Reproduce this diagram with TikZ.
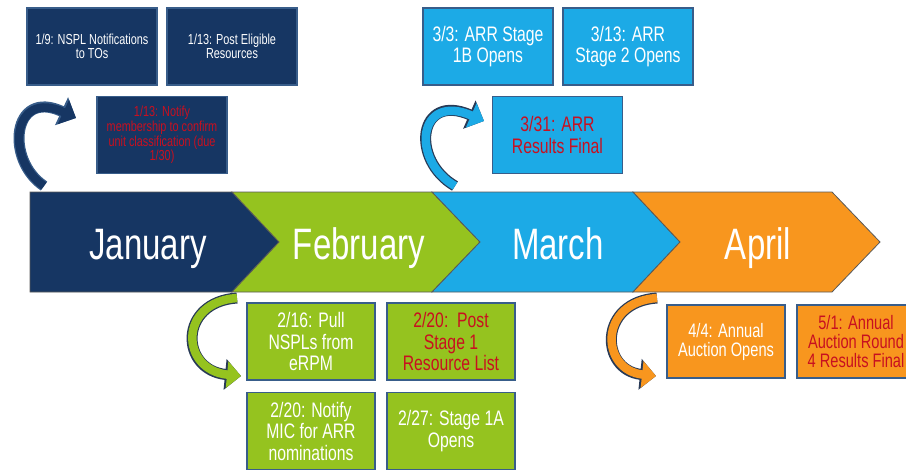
\documentclass[tikz,border=0pt]{standalone}
\usepackage{fontspec}
\setmainfont[FakeStretch=0.75]{Liberation Sans}
\usetikzlibrary{arrows.meta}

\definecolor{navy}{RGB}{22,54,99}
\definecolor{lime}{RGB}{149,195,31}
\definecolor{sky}{RGB}{28,170,230}
\definecolor{amber}{RGB}{248,150,30}
\definecolor{alert}{RGB}{200,16,32}
\definecolor{rim}{RGB}{56,93,138}
\definecolor{darkrim}{RGB}{40,58,86}

\begin{document}
\begin{tikzpicture}[x=1pt,y=-1pt,
	box/.style={shape=rectangle,draw=rim,line width=1.5pt,align=center,text=white,inner sep=2pt},
	small/.style={minimum width=130pt,minimum height=77pt,font=\fontsize{14.5}{13.5}\selectfont},
	big/.style={minimum width=128pt,minimum height=77pt,font=\fontsize{21}{21.5}\selectfont},
	wide/.style={minimum width=118pt,minimum height=73pt,font=\fontsize{19.5}{19}\selectfont},
	seg/.style={draw=black!65,line width=0.8pt},
	month/.style={anchor=base,text=white,font=\fontsize{44}{44}\selectfont},
	curl/.style 2 args={line width=8.5pt,draw=#1,-{Triangle[length=14pt,width=26pt]},
		preaction={draw=#2,line width=11pt,-{Triangle[length=16pt,width=30pt]}}}]

	\useasboundingbox (0,0) rectangle (906,471);
	\clip (0,0) rectangle (906,471);

	% month band
	\filldraw[seg,fill=navy]  (30,192) -- (232,192) -- (279,242) -- (232,292) -- (30,292) -- cycle;
	\filldraw[seg,fill=lime]  (232,192) -- (432,192) -- (480,242) -- (432,292) -- (232,292) -- (279,242) -- cycle;
	\filldraw[seg,fill=sky]   (432,192) -- (633,192) -- (680,242) -- (633,292) -- (432,292) -- (480,242) -- cycle;
	\filldraw[seg,fill=amber] (633,192) -- (832,192) -- (880,242) -- (832,292) -- (633,292) -- (680,242) -- cycle;

	\node[month] (jan) at (148,259) {January};
	\node[month] (feb) at (359,259) {February};
	\node[month] (mar) at (558,259) {March};
	\node[month] (apr) at (758,259) {April};

	% january
	\node[box,small,fill=navy] (nspl)    at (92,46.5)  {1/9: NSPL Notifications\\to TOs};
	\node[box,small,fill=navy] (elig)    at (232,46.5) {1/13: Post Eligible\\Resources};
	\node[box,small,fill=navy,text=alert] (notify) at (162,135)
		{1/13: Notify\\membership to confirm\\unit classification (due\\1/30)};

	% february
	\node[box,big,fill=lime] (pull)   at (311,341.5) {2/16: Pull\\NSPLs from\\eRPM};
	\node[box,big,fill=lime,text=alert] (stagelist) at (451,341.5) {2/20:~~Post\\Stage 1\\Resource List};
	\node[box,big,fill=lime] (mic)    at (311,431)   {2/20: Notify\\MIC for ARR\\nominations};
	\node[box,big,fill=lime] (stage1a) at (451,431)  {2/27: Stage 1A\\Opens};

	% march
	\node[box,big,minimum width=130pt,fill=sky] (stage1b) at (488,46.5) {3/3: ARR Stage\\1B Opens};
	\node[box,big,minimum width=130pt,fill=sky] (stage2)  at (628,46.5) {3/13: ARR\\Stage 2 Opens};
	\node[box,big,minimum width=130pt,fill=sky,text=alert] (arrfinal) at (557.5,135) {3/31: ARR\\Results Final};

	% april
	\node[box,wide,fill=amber] (auction) at (726,341.5) {4/4: Annual\\Auction Opens};
	\node[box,wide,fill=amber,text=alert] (round4) at (856,341.5) {5/1: Annual\\Auction Round\\4 Results Final};

	% curved arrows
	\coordinate (jtail) at (44,186);
	\coordinate (jhead) at (76,118);
	\coordinate (mtail) at (455,186);
	\coordinate (mhead) at (484,121);
	\coordinate (ftail) at (237,298);
	\coordinate (fhead) at (241,376);
	\coordinate (atail) at (657,298);
	\coordinate (ahead) at (656,376);
	\draw[curl={navy}{rim}]      (jtail) .. controls (5,160) and (12,88) .. (jhead);
	\draw[curl={sky}{darkrim}]   (mtail) .. controls (410,160) and (418,92) .. (mhead);
	\draw[curl={lime}{darkrim}]  (ftail) .. controls (178,302) and (180,370) .. (fhead);
	\draw[curl={amber}{darkrim}] (atail) .. controls (598,302) and (600,370) .. (ahead);

\end{tikzpicture}
\end{document}
